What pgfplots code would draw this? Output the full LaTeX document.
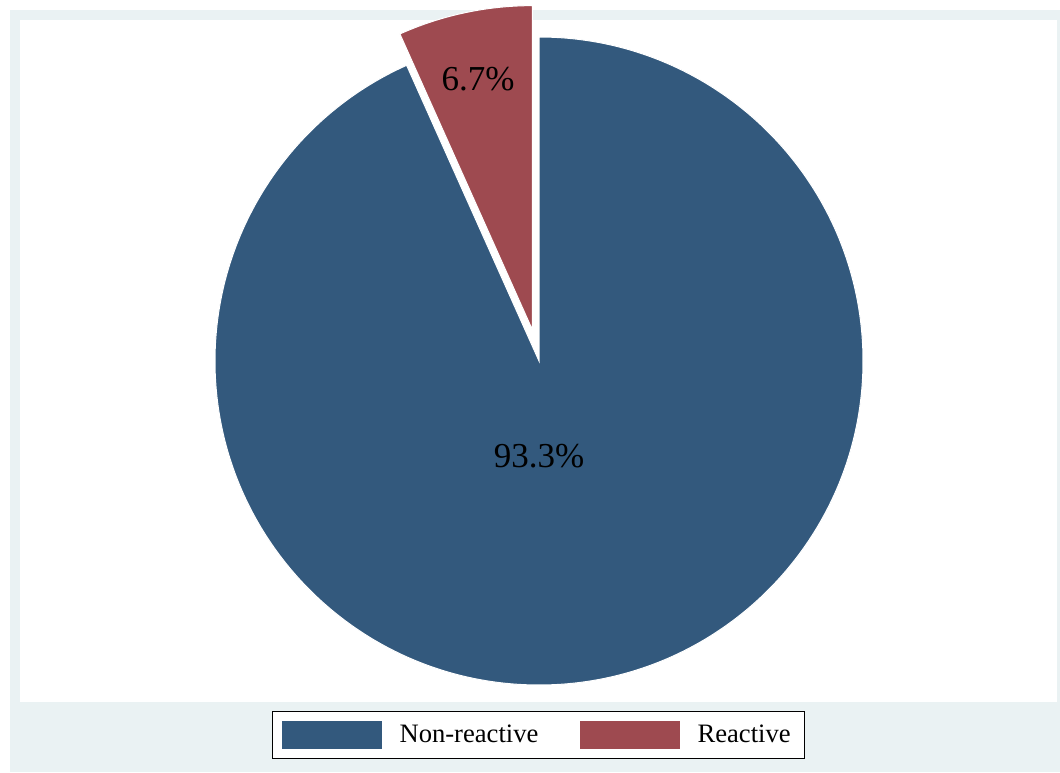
\documentclass[border=0pt]{standalone}
\usepackage{fontspec}
\setmainfont{Liberation Serif}
\usepackage{pgfplots}
\usepackage{pgfplotstable}
\pgfplotsset{compat=1.18}
\definecolor{nonreact}{RGB}{51,89,125}
\definecolor{react}{RGB}{158,74,80}
\definecolor{bgband}{RGB}{234,242,243}
\pgfplotstableread{
label value
Non-reactive 93.3
Reactive 6.7
}\piedata
\pgfplotstablegetelem{0}{value}\of\piedata \let\valA\pgfplotsretval
\pgfplotstablegetelem{1}{value}\of\piedata \let\valB\pgfplotsretval
\begin{document}
\begin{tikzpicture}
\fill[white] (0,0) rectangle (530pt,386pt);
\fill[bgband] (5pt,0) rectangle (530pt,381pt);
\begin{axis}[at={(10pt,35pt)}, anchor=south west, scale only axis,
  width=518.5pt, height=341pt,
  xmin=-1.6019, xmax=1.5988, ymin=-1.0525, ymax=1.0525,
  axis line style={draw=none}, xtick=\empty, ytick=\empty,
  clip=false, axis background/.style={fill=white},
  legend style={at={(0.5,0)}, anchor=north, yshift=-4.5pt, draw=black, line width=0.6pt,
    font=\fontsize{13.3}{15}\selectfont, legend columns=2,
    /tikz/every odd column/.append style={column sep=7pt},
    /tikz/every even column/.append style={column sep=19pt},
    inner xsep=5pt, inner ysep=4.5pt},
]
\addlegendimage{legend image code/.code={\fill[nonreact] (0pt,-6.5pt) rectangle (49pt,6.5pt);}}
\addlegendentry{Non-reactive}
\addlegendimage{legend image code/.code={\fill[react] (0pt,-6.5pt) rectangle (49pt,6.5pt);}}
\addlegendentry{Reactive}
\pgfmathsetmacro\angB{\valB*3.6}
\pgfmathsetmacro\sx{0.099*cos(90+\angB/2)}
\pgfmathsetmacro\sy{0.099*sin(90+\angB/2)}
\fill[nonreact, draw=white, line width=0.5pt] (0,0) -- (0,1) arc[start angle=90, end angle={90+\angB-360}, radius=1] -- cycle;
\fill[react, draw=white, line width=0.5pt] (\sx,\sy) -- (\sx,{\sy+1}) arc[start angle=90, end angle={90+\angB}, radius=1] -- cycle;
\node[font=\fontsize{17.5}{20}\selectfont] at (0,-0.293) {\valA\%};
\node[font=\fontsize{17.5}{20}\selectfont] at (-0.188,0.870) {\valB\%};
\end{axis}
\end{tikzpicture}
\end{document}
